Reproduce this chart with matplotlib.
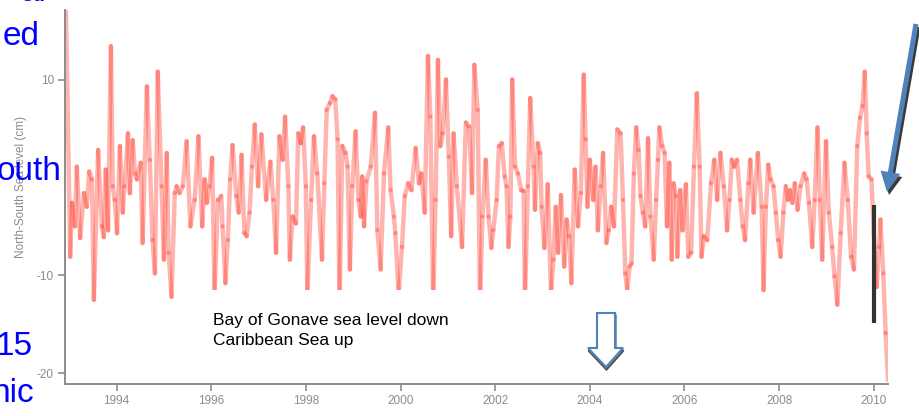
import numpy as np
import matplotlib
matplotlib.use('Agg')
import matplotlib.pyplot as plt
from matplotlib.collections import LineCollection
from matplotlib.patches import Rectangle, Polygon, FancyArrow

plt.rcParams['font.family'] = ['Liberation Sans', 'DejaVu Sans']

# North-South sea level difference (cm)
years = [
    1992.93, 1993.02, 1993.06, 1993.12, 1993.16, 1993.23, 1993.31, 1993.37, 1993.42, 1993.48,
    1993.52, 1993.61, 1993.69, 1993.73, 1993.77, 1993.82, 1993.88, 1993.92, 1993.96, 1994.01,
    1994.07, 1994.13, 1994.17, 1994.24, 1994.28, 1994.34, 1994.39, 1994.43, 1994.51, 1994.55,
    1994.64, 1994.70, 1994.76, 1994.81, 1994.87, 1994.95, 1995.00, 1995.06, 1995.10, 1995.16,
    1995.23, 1995.27, 1995.33, 1995.40, 1995.48, 1995.56, 1995.65, 1995.73, 1995.81, 1995.86,
    1995.91, 1995.96, 1996.02, 1996.07, 1996.14, 1996.21, 1996.24, 1996.30, 1996.35, 1996.40,
    1996.45, 1996.53, 1996.58, 1996.64, 1996.70, 1996.75, 1996.81, 1996.86, 1996.92, 1996.99,
    1997.06, 1997.16, 1997.25, 1997.31, 1997.37, 1997.44, 1997.51, 1997.56, 1997.63, 1997.66,
    1997.72, 1997.79, 1997.84, 1997.89, 1997.94, 1998.00, 1998.03, 1998.11, 1998.17, 1998.24,
    1998.34, 1998.39, 1998.44, 1998.51, 1998.56, 1998.62, 1998.67, 1998.71, 1998.77, 1998.84,
    1998.88, 1998.93, 1998.98, 1999.05, 1999.11, 1999.16, 1999.19, 1999.23, 1999.28, 1999.37,
    1999.46, 1999.51, 1999.58, 1999.65, 1999.74, 1999.79, 1999.86, 1999.89, 1999.96, 2000.03,
    2000.09, 2000.16, 2000.23, 2000.32, 2000.39, 2000.44, 2000.51, 2000.58, 2000.63, 2000.69,
    2000.74, 2000.79, 2000.84, 2000.89, 2000.96, 2001.02, 2001.07, 2001.12, 2001.19, 2001.30,
    2001.38, 2001.45, 2001.51, 2001.56, 2001.63, 2001.68, 2001.73, 2001.80, 2001.86, 2001.92,
    2001.96, 2002.03, 2002.08, 2002.14, 2002.20, 2002.24, 2002.28, 2002.32, 2002.36, 2002.42,
    2002.48, 2002.55, 2002.60, 2002.63, 2002.69, 2002.74, 2002.81, 2002.84, 2002.90, 2002.95,
    2002.98, 2003.04, 2003.11, 2003.18, 2003.23, 2003.28, 2003.33, 2003.39, 2003.46, 2003.51,
    2003.56, 2003.61, 2003.68, 2003.75, 2003.81, 2003.87, 2003.91, 2003.95, 2004.00, 2004.07,
    2004.12, 2004.17, 2004.23, 2004.28, 2004.35, 2004.40, 2004.45, 2004.51, 2004.58, 2004.65,
    2004.70, 2004.75, 2004.79, 2004.84, 2004.88, 2004.93, 2004.98, 2005.03, 2005.07, 2005.12,
    2005.17, 2005.23, 2005.28, 2005.35, 2005.40, 2005.44, 2005.47, 2005.53, 2005.58, 2005.63,
    2005.68, 2005.73, 2005.77, 2005.82, 2005.85, 2005.91, 2005.96, 2006.03, 2006.08, 2006.14,
    2006.20, 2006.26, 2006.32, 2006.36, 2006.41, 2006.48, 2006.56, 2006.63, 2006.69, 2006.76,
    2006.83, 2006.90, 2006.95, 2007.00, 2007.05, 2007.11, 2007.18, 2007.23, 2007.28, 2007.35,
    2007.39, 2007.46, 2007.55, 2007.63, 2007.67, 2007.72, 2007.77, 2007.82, 2007.88, 2007.93,
    2007.98, 2008.03, 2008.09, 2008.14, 2008.19, 2008.23, 2008.28, 2008.33, 2008.39, 2008.45,
    2008.53, 2008.58, 2008.63, 2008.70, 2008.75, 2008.81, 2008.86, 2008.91, 2008.99, 2009.05,
    2009.12, 2009.17, 2009.23, 2009.30, 2009.38, 2009.45, 2009.52, 2009.58, 2009.65, 2009.71,
    2009.76, 2009.81, 2009.85, 2009.89, 2009.95, 2010.00, 2010.06, 2010.11, 2010.14, 2010.20,
    2010.25, 2010.30,
]
sea_level = [
    17.1, -8.1, -2.6, -5.0, 1.1, -6.2, -1.6, -3.0, 0.6, -0.2,
    -12.5, 2.8, -5.0, -6.1, 0.8, -5.4, 13.4, -0.9, -2.3, -5.7,
    3.2, -3.6, -0.9, 4.5, -1.6, 3.8, 0.4, -0.2, 1.5, -6.7,
    9.3, 1.8, -6.4, -9.8, 10.8, -0.9, -8.4, 2.5, -7.7, -12.2,
    -1.6, -0.9, -1.6, -0.9, 3.7, -5.0, -2.3, 4.2, -5.0, -0.2,
    -2.6, -0.9, 2.0, -12.0, -2.3, -1.9, -5.0, -10.8, -6.4, -0.2,
    3.3, -1.9, -3.6, 2.3, -5.7, -6.0, -3.6, 1.1, 5.4, -0.9,
    4.4, -2.3, 1.6, -2.3, -7.7, 4.2, 1.8, 6.2, -0.9, -8.4,
    -4.0, -4.7, 4.5, 3.5, 5.1, -0.9, -12.0, -2.3, 4.2, 0.4,
    -8.4, -0.6, 6.9, 7.6, 8.3, 8.0, 3.9, -13.0, 3.2, 2.5,
    1.1, -9.4, -0.9, 4.7, -2.3, -4.0, 0.1, -5.0, -0.4, 1.1,
    6.6, -5.4, -9.4, 0.4, 5.1, -1.3, -4.0, -5.7, -12.0, -7.1,
    -1.9, -0.6, -1.3, 3.0, -0.6, 0.4, -3.6, 12.4, 6.2, -13.0,
    -2.3, 12.0, 3.2, 4.5, 10.0, 2.1, -6.0, 4.5, -0.9, -7.1,
    5.6, 5.2, -1.6, 11.5, 6.9, -13.0, -4.0, 1.8, -4.0, -7.2,
    -5.4, -2.3, 3.2, 3.5, 0.1, -0.9, -7.1, -4.0, 10.0, 1.1,
    0.4, -1.3, -1.4, -12.5, -0.9, 8.1, 1.1, -3.3, 3.5, 2.5,
    -3.0, -7.2, -0.7, -12.0, -8.4, -3.0, -7.7, -1.8, -9.1, -4.3,
    -6.0, -10.8, 0.8, -5.0, -1.6, 10.5, 3.9, -3.0, 1.8, -2.3,
    1.1, -5.4, -0.9, 2.5, -6.7, -5.4, -3.0, -5.0, 4.9, 4.5,
    -2.3, -9.8, -11.5, -9.1, -8.8, 0.4, 5.1, 2.8, -1.9, -3.6,
    -5.0, 4.0, -4.0, -8.4, -2.3, 1.8, 5.1, 3.2, 2.5, -5.0,
    1.5, -8.4, -0.6, -1.9, -8.1, -1.3, -5.4, -0.7, -8.1, -7.7,
    1.1, 8.6, 1.1, -8.1, -6.0, -6.4, -0.6, 1.8, -2.3, 2.5,
    -0.9, -5.4, -2.3, 1.8, 1.1, 1.8, -2.3, -5.0, -6.4, -0.6,
    1.8, -3.6, 2.5, -3.0, -11.5, -3.0, 1.3, -0.2, -0.9, -3.6,
    -6.4, -8.1, -3.6, -0.9, -2.3, -1.3, -2.6, -0.6, -3.3, -0.9,
    0.4, -0.2, -2.6, -7.1, -2.3, 5.1, -2.3, -8.4, 3.7, -3.6,
    -7.1, -10.1, -13.0, -5.7, 1.5, -2.3, -8.1, -9.4, 3.2, 6.1,
    7.3, 10.8, 4.5, 0.1, -0.2, -5.7, -11.2, -7.1, -4.3, -9.8,
    -15.9, -20.7,
]

# January 2010 event range (black bar)
event_year = [2010.01]
event_low = [-14.9]
event_high = [-2.8]

y_ticks = [-20, -10, 10]
x_ticks = [1994, 1996, 1998, 2000, 2002, 2004, 2006, 2008, 2010]

W, H = 920, 416


def px(x, y):
    # figure pixel (from top-left) -> figure fraction
    return x / W, 1 - y / H


fig = plt.figure(figsize=(9.2, 4.16), dpi=100)
ax = fig.add_axes([65 / W, 1 - 384 / H, (888 - 65) / W, (384 - 10) / H])

pts = np.column_stack([years, sea_level])
segs = np.stack([pts[:-1], pts[1:]], axis=1)
lc = LineCollection(segs, colors='#ff3322', alpha=0.36, linewidths=3.2,
                    capstyle='round', zorder=2)
ax.add_collection(lc)

ax.vlines(event_year, event_low, event_high, colors='#333333', linewidth=3, zorder=3)

ax.set_xlim(1992.91, 2010.3)
ax.set_ylim(-21.1, 17.1)
ax.set_xticks(x_ticks)
ax.set_xticklabels([str(t) for t in x_ticks])
ax.set_yticks(y_ticks)
ax.set_yticklabels([str(t) for t in y_ticks])
for s in ['top', 'right']:
    ax.spines[s].set_visible(False)
for s in ['left', 'bottom']:
    ax.spines[s].set_color('#8c8c8c')
    ax.spines[s].set_linewidth(1.4)
ax.tick_params(colors='#8c8c8c', labelcolor='#8c8c8c', labelsize=8.5,
               length=5, width=1.2, pad=3)
ax.set_ylabel('North-South Sea level (cm)', color='#8c8c8c', fontsize=8.5)
ax.yaxis.set_label_coords((27 - 65) / (888 - 65), (384 - 187) / 374)

# white text box over the plot
fig.add_artist(Rectangle(px(205, 372), (645 - 205) / W, (372 - 290) / H,
                         transform=fig.transFigure, facecolor='white',
                         edgecolor='none', zorder=5))
fig.text(*px(213, 325), 'Bay of Gonave sea level down', fontsize=12.5,
         color='black', va='baseline', zorder=6)
fig.text(*px(213, 345), 'Caribbean Sea up', fontsize=12.5,
         color='black', va='baseline', zorder=6)


# hollow down arrow
def arrow_pts(dx, dy):
    p = [(597, 313), (615, 313), (615, 348), (623, 348), (606, 367),
         (588, 348), (597, 348)]
    return [px(x + dx, y + dy) for x, y in p]


fig.add_artist(Polygon(arrow_pts(0.5, 2.5), closed=True, transform=fig.transFigure,
                       facecolor='none', edgecolor='#555555', linewidth=1.6, zorder=6))
fig.add_artist(Polygon(arrow_pts(0, 0), closed=True, transform=fig.transFigure,
                       facecolor='white', edgecolor='#4f81bd', linewidth=1.5, zorder=7))

# blue arrow pointing at 2010
tr = fig.dpi_scale_trans
for dx, dy, col, z in [(2, 3, '#3a3a3a', 6), (0, 0, '#4f81bd', 7)]:
    x0, y0 = 916 + dx, 24 + dy
    x1, y1 = 887 + dx, 192 + dy
    fig.add_artist(FancyArrow(x0 / 100, (H - y0) / 100, (x1 - x0) / 100, -(y1 - y0) / 100,
                              width=0.05, head_width=0.2, head_length=0.2,
                              length_includes_head=True, transform=tr,
                              facecolor=col, edgecolor='none', zorder=z))

# cut-off slide text on the left
for txt, x, y in [('al', 46, 1), ('ed', 40, 45), ('outh', 62, 180),
                  ('15', 33, 355), ('nic', 34, 402)]:
    fig.text(*px(x, y), txt, fontsize=24, color='#0000ff', ha='right',
             va='baseline', zorder=8)

fig.savefig('out.png', dpi=100)
